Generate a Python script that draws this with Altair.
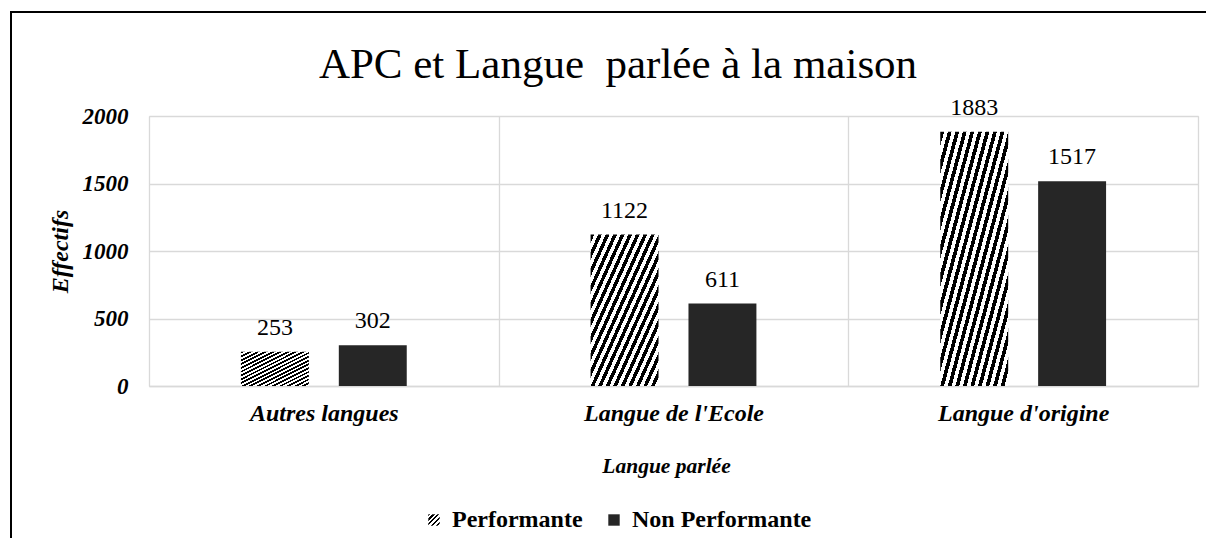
import altair as alt
import pandas as pd

categories = ["Autres langues", "Langue de l'Ecole", "Langue d'origine"]
series = ["Performante", "Non Performante"]
performante = [253, 1122, 1883]
non_performante = [302, 611, 1517]
title_text = "APC et Langue \u00a0parlée à la maison"

rows = []
for c, p, n in zip(categories, performante, non_performante):
    rows.append({"Langue": c, "Groupe": series[0], "Effectifs": p})
    rows.append({"Langue": c, "Groupe": series[1], "Effectifs": n})
df = pd.DataFrame(rows)


def stripes_expr(n, dark, light, frac):
    stops = []
    for i in range(n):
        a = i / n
        b = (i + frac) / n
        c = (i + 1) / n
        stops += [(a, dark), (b, dark), (b, light), (c, light)]
    s = ", ".join("{offset: %.4f, color: '%s'}" % (o, col) for o, col in stops)
    return "{gradient: 'linear', x1: 0, y1: 0, x2: 1, y2: 1, stops: [%s]}" % s


perf_fill = stripes_expr(18, "#000000", "#ffffff", 0.5)
nonperf_fill = "'#262626'"

FONT = "'Liberation Serif', 'Times New Roman', serif"
W, H = 1049, 270

base = alt.Chart(df).encode(
    x=alt.X("Langue:N", sort=categories,
            scale=alt.Scale(paddingInner=0, paddingOuter=0),
            axis=alt.Axis(title="Langue parlée", labelAngle=0,
                          labelFont=FONT, labelFontSize=24, labelFontStyle="italic",
                          labelFontWeight="bold", labelColor="#000000", labelPadding=15,
                          titleFont=FONT, titleFontSize=21.5, titleFontStyle="italic",
                          titleFontWeight="bold", titleColor="#000000",
                          titleX=517, titleY=80, titleAlign="center", titleBaseline="middle",
                          ticks=False, domain=True, domainColor="#d9d9d9", domainWidth=1.3,
                          grid=True, gridColor="#d9d9d9", gridWidth=1.3, tickBand="extent")),
    xOffset=alt.XOffset("Groupe:N", sort=series,
                        scale=alt.Scale(paddingInner=0.306, paddingOuter=0.939)),
)

bars = base.mark_bar(fillOpacity=1, strokeWidth=0).encode(
    y=alt.Y("Effectifs:Q", scale=alt.Scale(domain=[0, 2000], nice=False),
            axis=alt.Axis(values=[0, 500, 1000, 1500, 2000], format="d", title="Effectifs",
                          labelFont=FONT, labelFontSize=23, labelFontStyle="italic",
                          labelFontWeight="bold", labelColor="#000000", labelPadding=21,
                          titleFont=FONT, titleFontSize=24, titleFontStyle="italic",
                          titleFontWeight="bold", titleColor="#000000",
                          titleX=-89, titleY=135, titleAngle=270,
                          titleAlign="center", titleBaseline="middle",
                          ticks=False, domain=False,
                          grid=True, gridColor="#d9d9d9", gridWidth=1.3)),
    fill=alt.Fill("Groupe:N", sort=series,
                  scale=alt.Scale(domain=series,
                                  range=[alt.ExprRef(perf_fill), alt.ExprRef(nonperf_fill)]),
                  legend=alt.Legend(title=None, orient="none", legendX=273, legendY=392,
                                    direction="horizontal", symbolType="square",
                                    symbolSize=130, symbolStrokeWidth=0,
                                    labelFont=FONT, labelFontSize=24, labelFontWeight="bold",
                                    labelColor="#000000", labelOffset=6, columnPadding=19,
                                    labelLimit=400)),
)

labels = base.mark_text(font=FONT, fontSize=24, baseline="alphabetic", dy=-17,
                        color="#000000").encode(
    y=alt.Y("Effectifs:Q"),
    text=alt.Text("Effectifs:Q"),
)

frame = alt.Chart(pd.DataFrame({"k": [0]})).mark_rect(
    fill=None, stroke="#000000", strokeWidth=2
).encode(
    x=alt.value(-138), y=alt.value(-104), x2=alt.value(1400), y2=alt.value(700)
)

title = alt.Chart(pd.DataFrame({"t": [title_text]})).mark_text(
    font=FONT, fontSize=43, color="#000000", align="center", baseline="middle"
).encode(
    text="t:N", x=alt.value(469), y=alt.value(-51)
)

chart = alt.layer(bars, labels, frame, title).properties(
    width=W, height=H,
    padding={"left": 141, "top": 108, "right": 8, "bottom": 152},
    autosize=alt.AutoSizeParams(type="none"),
).configure_view(stroke="#d9d9d9", strokeWidth=1.3).configure(background="#ffffff")

chart.save("out.html", embed_options={"renderer": "svg", "actions": False})
